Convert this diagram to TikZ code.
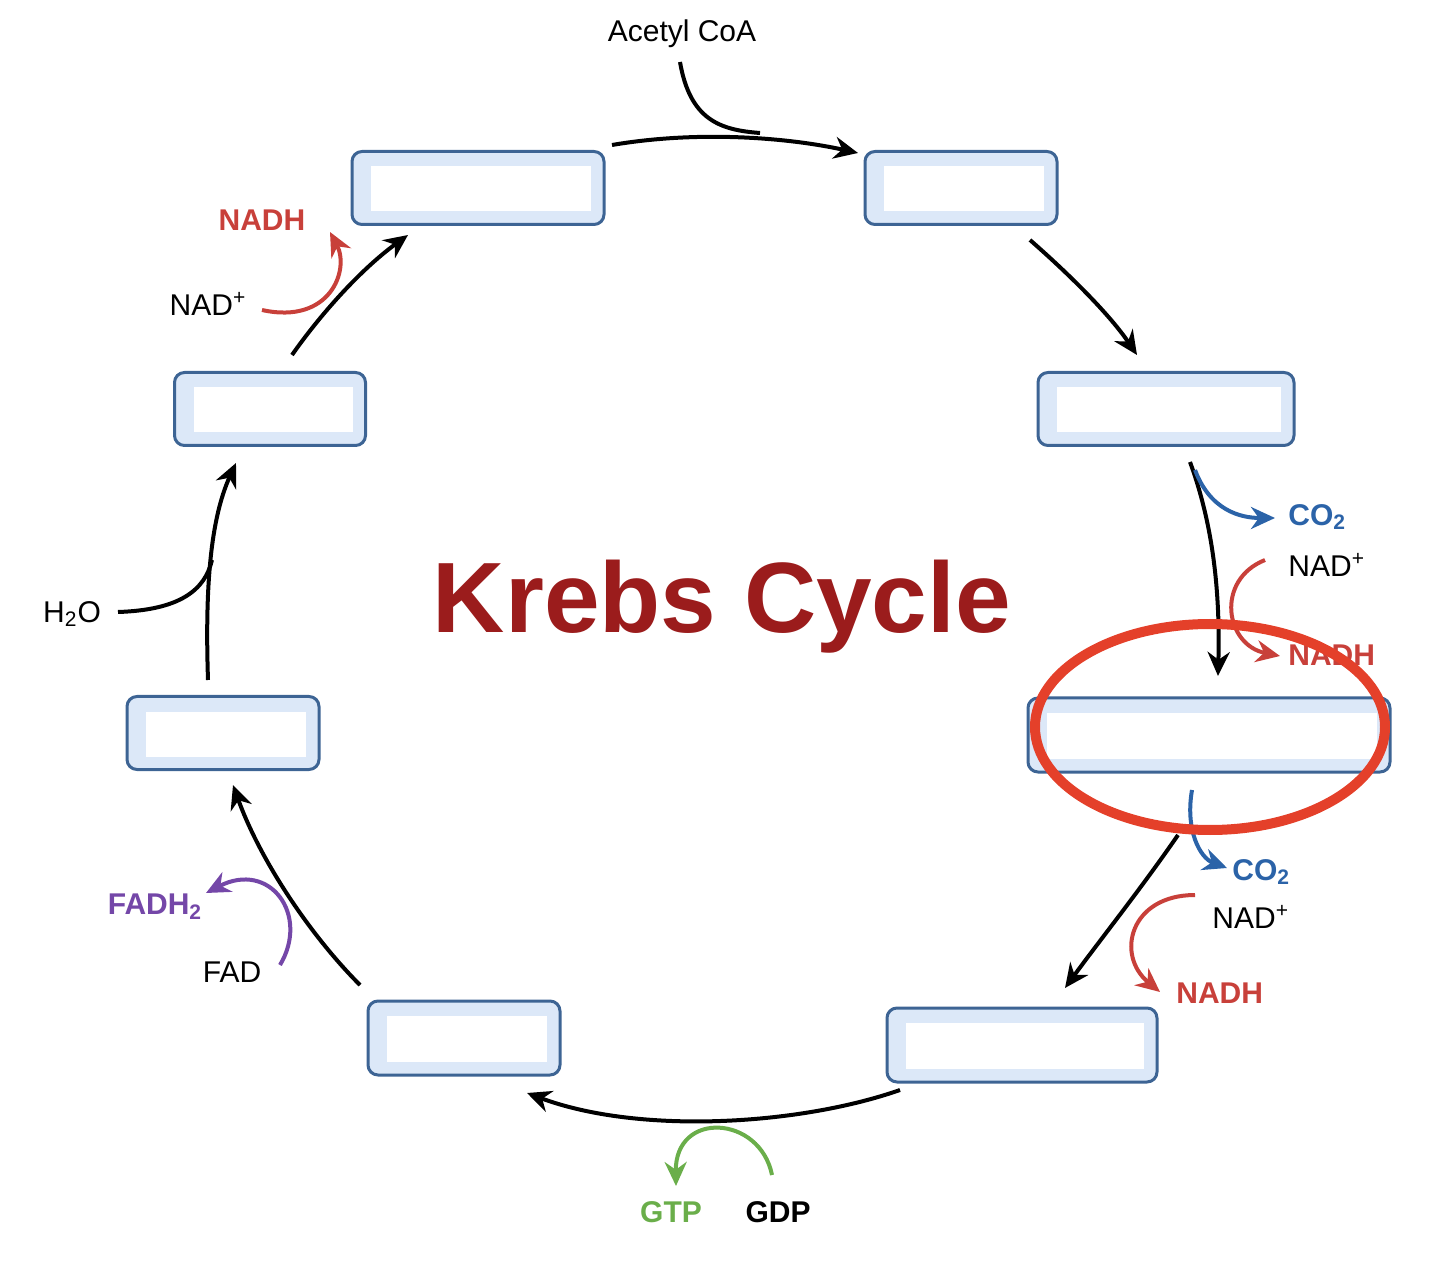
\documentclass[tikz,border=0pt]{standalone}
\usepackage{fontspec}
\setmainfont{Liberation Sans}
\usetikzlibrary{arrows.meta}
\definecolor{bxs}{HTML}{3D6494}
\definecolor{bxf}{HTML}{DCE8F8}
\definecolor{nred}{HTML}{C8403A}
\definecolor{cblue}{HTML}{2B63A8}
\definecolor{gtp}{HTML}{6AAE4A}
\definecolor{fad}{HTML}{7447A8}
\definecolor{title}{HTML}{9B1C1C}
\begin{document}
\begin{tikzpicture}[x=0.5pt,y=-0.5pt,
 box/.style={draw=bxs,fill=bxf,line width=1.5pt,rounded corners=5pt,inner sep=0pt},
 inbox/.style={fill=white,inner sep=0pt},
 arr/.style={line width=2pt,-{Stealth[length=12pt,width=11pt]}},
 lab/.style={font=\fontsize{15}{15}\selectfont,inner sep=0pt},
 blab/.style={font=\fontsize{15}{15}\selectfont\bfseries,inner sep=0pt}]
\useasboundingbox (0,0) rectangle (1446,1272);
% boxes
\foreach \n/\cx/\cy/\w/\h in {b1/478/188/252/73,b2/961/188/192/73,b3/1166/409/256/73,b4/1209/735/362/74,b5/1022/1045/270/74,b6/464/1038/192/74,b7/223/733/192/73,b8/270/409/191/73}{
 \node[box,minimum width=\w*0.5pt,minimum height=\h*0.5pt] (\n) at (\cx,\cy) {};
 \node[inbox,minimum width=\w*0.5pt-16pt,minimum height=\h*0.5pt-14pt] at ([xshift=1.5pt,yshift=-0.5pt]\n.center) {};
}
\node[font=\fontsize{50}{50}\selectfont\bfseries,text=title] (t) at (722,607) {Krebs Cycle};
% labels
\node[lab] (acoa) at (682,34) {Acetyl CoA};
\node[blab,text=cblue,anchor=west] (co1) at (1288,517) {CO\textsubscript{2}};
\node[lab,anchor=west] (nad1) at (1288,565) {NAD\textsuperscript{+}};
\node[blab,text=nred,anchor=west] (nadh1) at (1288,655) {NADH};
\node[blab,text=cblue,anchor=west] (co2) at (1232,872) {CO\textsubscript{2}};
\node[lab,anchor=west] (nad2) at (1212,917) {NAD\textsuperscript{+}};
\node[blab,text=nred,anchor=west] (nadh2) at (1176,993) {NADH};
\node[blab,text=gtp] (gtp) at (671,1212) {GTP};
\node[blab] (gdp) at (778,1212) {GDP};
\node[blab,text=fad] (fadh) at (155,907) {FADH\textsubscript{2}};
\node[lab] (fadl) at (232,972) {FAD};
\node[lab] (h2o) at (72,614) {H\textsubscript{2}O};
\node[lab] (nad3) at (208,304) {NAD\textsuperscript{+}};
\node[blab,text=nred] (nadh3) at (262,220) {NADH};
% cycle arrows
\coordinate (a1) at (612,145); \coordinate (a1e) at (858,153);
\draw[arr] (a1) .. controls (700,130) and (790,138) .. (a1e);
\draw[line width=2pt] (680,62) .. controls (690,120) and (720,130) .. (760,133);
\coordinate (a2) at (1030,240); \coordinate (a2e) at (1137,355);
\draw[arr] (a2) .. controls (1070,275) and (1110,315) .. (a2e);
\coordinate (a3) at (1190,462); \coordinate (a3e) at (1218,676);
\draw[arr] (a3) .. controls (1215,530) and (1220,600) .. (a3e);
\draw[arr,cblue] (1195,470) .. controls (1210,510) and (1240,518) .. (1275,518);
\draw[arr,nred] (1265,560) .. controls (1215,580) and (1225,645) .. (1280,656);
\coordinate (a4) at (1178,835); \coordinate (a4e) at (1065,988);
\draw[arr] (a4) .. controls (1140,890) and (1100,940) .. (a4e);
\draw[arr,cblue] (1192,790) .. controls (1185,830) and (1200,858) .. (1227,868);
\draw[arr,nred] (1195,895) .. controls (1130,895) and (1115,955) .. (1160,992);
\coordinate (a5) at (900,1090); \coordinate (a5e) at (527,1093);
\draw[arr] (a5) .. controls (800,1125) and (640,1135) .. (a5e);
\draw[arr,gtp] (772,1175) .. controls (760,1115) and (675,1110) .. (676,1186);
\coordinate (a6) at (360,985); \coordinate (a6e) at (233,785);
\draw[arr] (a6) .. controls (310,935) and (260,860) .. (a6e);
\draw[arr,fad] (280,965) .. controls (310,915) and (270,860) .. (206,893);
\coordinate (a7) at (208,680); \coordinate (a7e) at (236,463);
\draw[arr] (a7) .. controls (205,590) and (210,520) .. (a7e);
\draw[line width=2pt] (118,612) .. controls (180,610) and (205,590) .. (212,560);
\coordinate (a8) at (292,355); \coordinate (a8e) at (408,235);
\draw[arr] (a8) .. controls (320,315) and (360,270) .. (a8e);
\draw[arr,nred] (262,310) .. controls (330,325) and (350,270) .. (330,232);
% highlight ellipse
\draw[line width=5pt,color={rgb,255:red,228;green,64;blue,42}] (1210,727) ellipse [x radius=175,y radius=103];
\end{tikzpicture}
\end{document}
